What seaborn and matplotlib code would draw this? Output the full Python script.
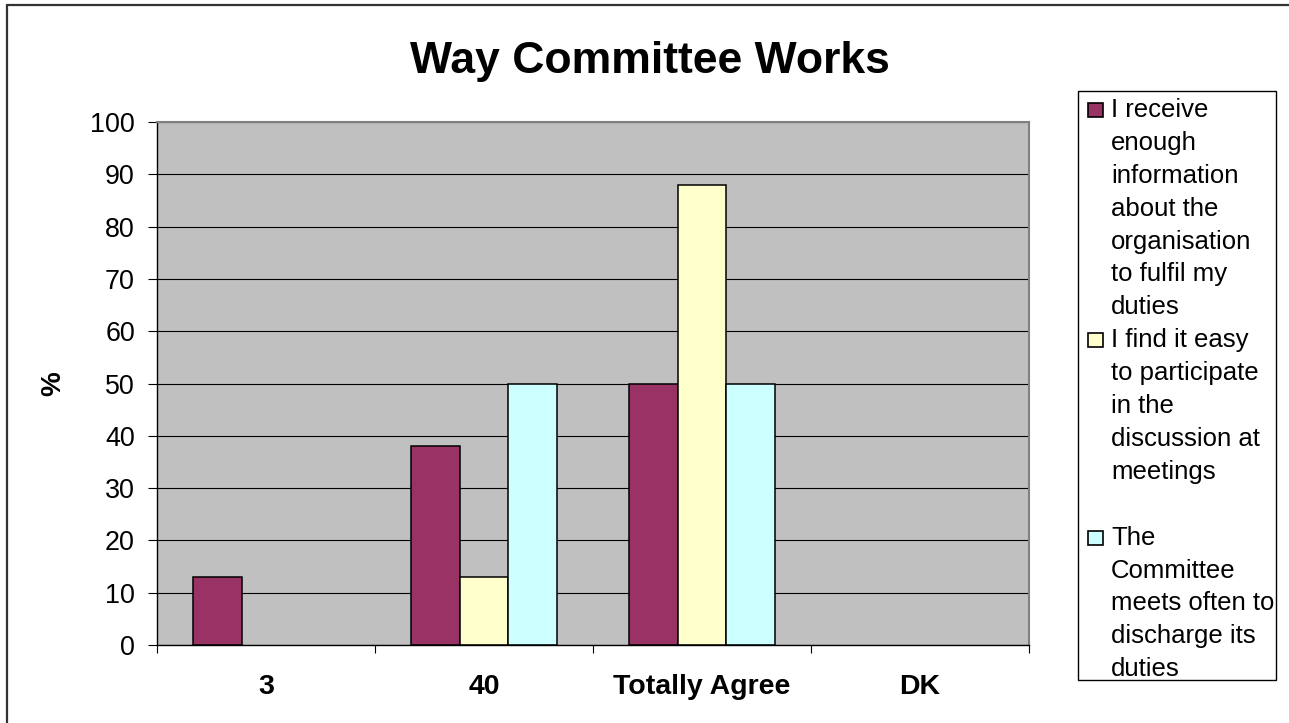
import numpy as np
import pandas as pd
import matplotlib
matplotlib.use("Agg")
import matplotlib.pyplot as plt
from matplotlib.patches import Rectangle
from matplotlib.lines import Line2D
import seaborn as sns

# ---- data -------------------------------------------------------------
categories = ["3", "40", "Totally Agree", "DK"]
series_names = [
    "I receive\nenough\ninformation\nabout the\norganisation\nto fulfil my\nduties",
    "I find it easy\nto participate\nin the\ndiscussion at\nmeetings",
    "The\nCommittee\nmeets often to\ndischarge its\nduties",
]
# no responses -> no bar
info_values = [13, 38, 50, np.nan]
easy_values = [np.nan, 13, 88, np.nan]
meets_values = [np.nan, 50, 50, np.nan]
y_ticks = list(range(0, 101, 10))
title = "Way Committee Works"
y_label = "%"

colors = ["#993366", "#FFFFCC", "#CCFFFF"]

df = pd.DataFrame({
    "category": categories * 3,
    "series": [series_names[0]] * 4 + [series_names[1]] * 4 + [series_names[2]] * 4,
    "value": info_values + easy_values + meets_values,
})

# ---- style ------------------------------------------------------------
sns.set_style("white")
plt.rcParams["font.family"] = ["Liberation Sans", "DejaVu Sans"]
plt.rcParams["text.color"] = "black"
plt.rcParams["axes.labelcolor"] = "black"
plt.rcParams["xtick.color"] = "black"
plt.rcParams["ytick.color"] = "black"

W, H = 1289, 723
fig = plt.figure(figsize=(W / 100, H / 100), dpi=100)
fig.patch.set_facecolor("white")


def fx(px):
    return px / W


def fy(py):
    return 1 - py / H


ax = fig.add_axes([fx(157), fy(645), (1029 - 157) / W, (645 - 122) / H])
ax.set_facecolor("#C0C0C0")

sns.barplot(
    data=df, x="category", y="value", hue="series",
    order=categories, hue_order=series_names, palette=colors, saturation=1,
    width=2 / 3, gap=0, errorbar=None, edgecolor="black", linewidth=1.1,
    legend=False, ax=ax,
)

ax.set_ylim(0, 100)
ax.set_xlim(-0.5, len(categories) - 0.5)
ax.set_yticks(y_ticks)
ax.set_yticklabels([str(t) for t in y_ticks])
ax.yaxis.grid(True, color="black", linewidth=0.8)
ax.xaxis.grid(False)
ax.set_axisbelow(True)

ax.tick_params(axis="y", direction="out", length=6.5, width=0.8, color="black",
               labelsize=19.4, labelcolor="black", pad=9.4, left=True)
ax.set_xticks(range(len(categories)))
ax.set_xticklabels(categories, fontweight="bold", fontsize=20.5, color="black")
ax.tick_params(axis="x", which="major", length=0, pad=21)
ax.set_xticks(np.arange(-0.5, len(categories), 1.0), minor=True)
ax.tick_params(axis="x", which="minor", direction="out", length=6, width=0.8,
               color="black", bottom=True)

ax.set_xlabel("")
ax.set_ylabel(y_label, fontsize=20, fontweight="bold", va="center", color="black")
ax.yaxis.set_label_coords((53.5 - 157) / 872, 0.5)

for side in ("left", "bottom"):
    ax.spines[side].set_color("black")
    ax.spines[side].set_linewidth(1.0)
for side in ("top", "right"):
    ax.spines[side].set_color("#808080")
    ax.spines[side].set_linewidth(1.5)

# title
fig.text(fx(650), fy(73), title, ha="center", va="baseline",
         fontsize=32, fontweight="bold", color="black")

# chart-area frame (left and top edges)
fig.add_artist(Line2D([fx(7), fx(7)], [fy(5), 0], color="#333333", lw=1.6))
fig.add_artist(Line2D([fx(7), 1], [fy(5), fy(5)], color="#333333", lw=1.6))

# legend
fig.add_artist(Rectangle((fx(1078), fy(680)), (1276 - 1078) / W, (680 - 91) / H,
                         facecolor="white", edgecolor="black", lw=1.0,
                         transform=fig.transFigure))
line_step = 32.9
first_baseline = 117
entry_start = [0, 7, 13]
for name, color, start in zip(series_names, colors, entry_start):
    base = first_baseline + start * line_step
    fig.add_artist(Rectangle((fx(1088), fy(base)), 15 / W, 14 / H,
                             facecolor=color, edgecolor="black", lw=1.2,
                             transform=fig.transFigure))
    for i, line in enumerate(name.split("\n")):
        fig.text(fx(1111), fy(base + i * line_step), line, ha="left",
                 va="baseline", fontsize=18.5, color="black")

fig.savefig("out.png", dpi=100)
